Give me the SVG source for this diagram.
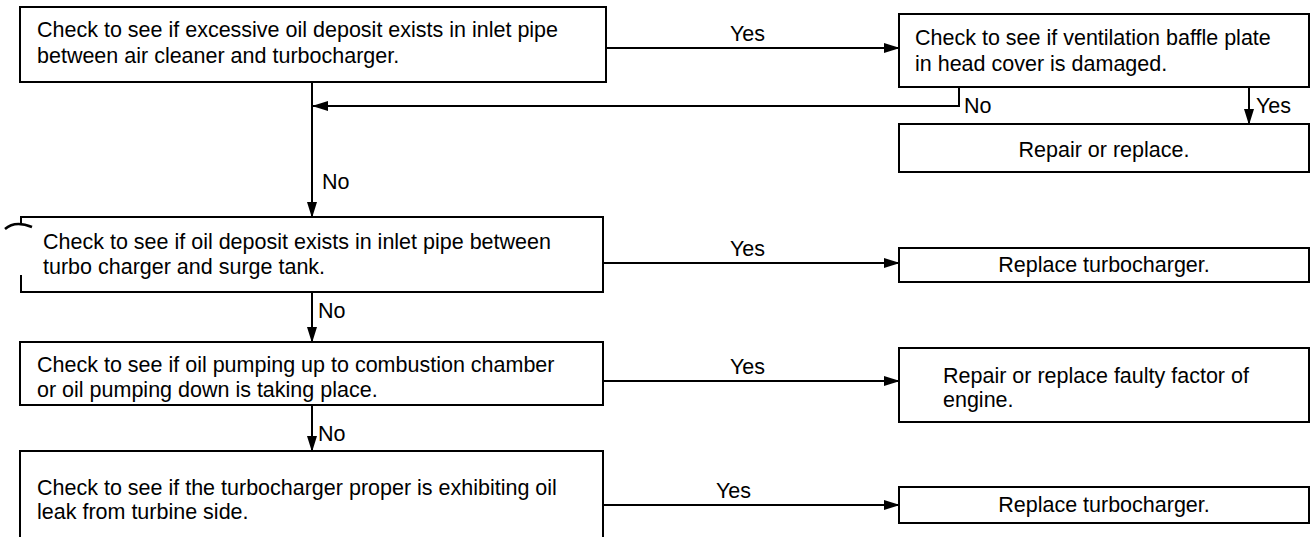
<svg xmlns="http://www.w3.org/2000/svg" width="1315" height="537" viewBox="0 0 1315 537">
<style>
.box{fill:#fff;stroke:#000;stroke-width:2}
.t{font-family:"Liberation Sans",Arial,sans-serif;font-size:21.5px;fill:#000}
.c{text-anchor:middle}
.ln{fill:none;stroke:#000;stroke-width:2}
</style>
<defs>
<marker id="ah" markerWidth="16" markerHeight="10" refX="15" refY="5" orient="auto" markerUnits="userSpaceOnUse">
<path d="M0,0 L16,5 L0,10 Z" fill="#000"/>
</marker>
</defs>
<rect width="1315" height="537" fill="#fff"/>
<g id="connectors">
<path class="ln" d="M606,48 H899" marker-end="url(#ah)"/>
<path class="ln" d="M959,87 V106 H313" marker-end="url(#ah)"/>
<path class="ln" d="M1249,87 V124" marker-end="url(#ah)"/>
<path class="ln" d="M312,82 V217" marker-end="url(#ah)"/>
<path class="ln" d="M603,263 H899" marker-end="url(#ah)"/>
<path class="ln" d="M312,292 V342" marker-end="url(#ah)"/>
<path class="ln" d="M603,381 H899" marker-end="url(#ah)"/>
<path class="ln" d="M312,405 V451" marker-end="url(#ah)"/>
<path class="ln" d="M603,505 H899" marker-end="url(#ah)"/>
<text class="t" x="730" y="41">Yes</text>
<text class="t" x="964" y="113">No</text>
<text class="t" x="1256" y="113">Yes</text>
<text class="t" x="322" y="189">No</text>
<text class="t" x="730" y="256">Yes</text>
<text class="t" x="318" y="318">No</text>
<text class="t" x="730" y="374">Yes</text>
<text class="t" x="318" y="441">No</text>
<text class="t" x="716" y="498">Yes</text>
</g>
<g id="n1">
<rect class="box" x="20" y="7" width="586" height="75"/>
<text class="t" x="37" y="37">Check to see if excessive oil deposit exists in inlet pipe</text>
<text class="t" x="37" y="63">between air cleaner and turbocharger.</text>
</g>
<g id="n2">
<rect class="box" x="899" y="14" width="410" height="73"/>
<text class="t" x="915" y="45">Check to see if ventilation baffle plate</text>
<text class="t" x="915" y="71">in head cover is damaged.</text>
</g>
<g id="n3">
<rect class="box" x="899" y="124" width="410" height="48"/>
<text class="t c" x="1104" y="157">Repair or replace.</text>
</g>
<g id="n4">
<path class="ln" d="M21,225 V217 H603 V292 H21 V275"/>
<path d="M5,229 Q15,220 32,227" fill="none" stroke="#000" stroke-width="2.5"/>
<text class="t" x="43" y="249">Check to see if oil deposit exists in inlet pipe between</text>
<text class="t" x="43" y="274">turbo charger and surge tank.</text>
</g>
<g id="n5">
<rect class="box" x="899" y="248" width="410" height="34"/>
<text class="t c" x="1104" y="272">Replace turbocharger.</text>
</g>
<g id="n6">
<rect class="box" x="20" y="342" width="583" height="63"/>
<text class="t" x="37" y="372">Check to see if oil pumping up to combustion chamber</text>
<text class="t" x="37" y="397">or oil pumping down is taking place.</text>
</g>
<g id="n7">
<rect class="box" x="899" y="348" width="410" height="74"/>
<text class="t" x="943" y="383">Repair or replace faulty factor of</text>
<text class="t" x="943" y="407">engine.</text>
</g>
<g id="n8">
<path class="ln" d="M20,545 V451 H603 V545"/>
<text class="t" x="37" y="495">Check to see if the turbocharger proper is exhibiting oil</text>
<text class="t" x="37" y="519">leak from turbine side.</text>
</g>
<g id="n9">
<rect class="box" x="899" y="487" width="410" height="36"/>
<text class="t c" x="1104" y="512">Replace turbocharger.</text>
</g>
</svg>
